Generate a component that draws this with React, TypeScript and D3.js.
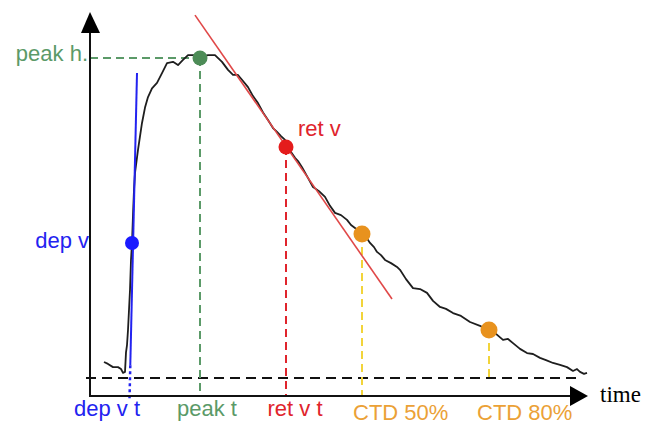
import React from "react";
import * as d3 from "d3";

// Recorded signal (time units, % of peak height)
const curveT = [14, 18, 23, 28, 31, 33, 35, 36, 37, 38, 40, 41, 42, 43, 44, 45, 48, 52, 55, 58, 62, 67, 72, 77, 83, 88, 93, 98, 105, 110, 118, 125, 132, 138, 143, 148, 153, 158, 163, 168, 173, 178, 183, 187, 191, 195, 197, 201, 205, 208, 212, 217, 223, 229, 235, 240, 245, 251, 257, 261, 265, 272, 276, 280, 284, 287, 291, 295, 301, 307, 310, 316, 323, 330, 337, 343, 350, 356, 363, 371, 380, 390, 399, 406, 413, 418, 423, 430, 437, 443, 450, 456, 463, 470, 477, 483, 487, 490, 494, 497];
const curveV = [5.0, 4.4, 3.4, 3.4, 2.8, 1.6, 1.9, 8, 10.3, 15, 27.5, 36.9, 42.2, 50.9, 58.8, 64.1, 71.3, 79.7, 84.5, 87.8, 90.5, 92.2, 95.3, 98.4, 98.8, 97.8, 99.4, 100.9, 100.9, 100.3, 100.9, 100.9, 98.8, 96.3, 94.7, 94.7, 92.8, 90.9, 88.1, 85.9, 83.0, 80.6, 78.1, 76.9, 75.6, 74.4, 72.2, 70.6, 68.8, 67.8, 65.9, 63.1, 59.7, 58.4, 56.6, 53.8, 51.6, 50.9, 49.4, 47.8, 46.9, 45.3, 44.1, 42.2, 40.9, 39.4, 38.4, 36.9, 35.9, 34.7, 33.8, 30.9, 28.1, 27.8, 26.6, 24.1, 22.2, 21.6, 20.3, 19.4, 17.5, 16.3, 14.7, 13.8, 11.9, 12.2, 10.9, 9.1, 7.8, 7.5, 6.3, 5.6, 4.7, 4.1, 3.4, 2.2, 2.8, 1.9, 1.3, 1.6];

// Characteristic points
const pointNames = ["dep v", "peak", "ret v", "CTD 50%", "CTD 80%"];
const pointT = [42, 110, 196, 272, 399];
const pointV = [42.2, 100, 72.2, 45, 15];

// Tangent lines [t0, v0, t1, v1]
const depTangent = [47, 95.3, 40, 0];
const retTangent = [105, 113.4, 302, 24.7];

// Axis extents
const axisT = [0, 498];
const axisV = [-5.6, 114.4];
const baselineT = [-4, 490];

const x = d3.scaleLinear().domain([0, 500]).range([90, 590]);
const y = d3.scaleLinear().domain([0, 100]).range([378, 58]);

const GREEN = "#5b9a68";
const BLUE = "#2323f0";
const RED = "#e0242c";
const ORANGE = "#e8921e";
const YELLOW = "#f2d43a";
const ORANGE_TXT = "#eba136";
const FONT = "'Liberation Sans', Arial, sans-serif";

export default function App() {
  const line = d3
    .line<number>()
    .x((_, i) => x(curveT[i]))
    .y((_, i) => y(curveV[i]))
    .curve(d3.curveLinear);
  const path = line(curveT) || "";

  const x0 = x(axisT[0]);
  const y0 = y(axisV[0]);
  const xEnd = x(axisT[1]);
  const yTop = y(axisV[1]);

  const [dep, peak, ret, c50, c80] = pointT.map((t, i) => ({ cx: x(t), cy: y(pointV[i]) }));

  const depSolidEndV = 4;
  const depSlope = (depTangent[2] - depTangent[0]) / (depTangent[3] - depTangent[1]);
  const tAt = (v: number) => depTangent[0] + depSlope * (v - depTangent[1]);

  return (
    <svg
      width={654}
      height={434}
      style={{ position: "absolute", left: 0, top: 0, background: "#fff" }}
      fontFamily={FONT}
    >
      {/* baseline dashed */}
      <line x1={x(baselineT[0])} x2={x(baselineT[1])} y1={y(0)} y2={y(0)} stroke="#111" strokeWidth={2} strokeDasharray="10,6" />

      {/* guide lines */}
      <line x1={x0} x2={peak.cx} y1={peak.cy} y2={peak.cy} stroke={GREEN} strokeWidth={2} strokeDasharray="8,5" />
      <line x1={peak.cx} x2={peak.cx} y1={peak.cy} y2={y0} stroke={GREEN} strokeWidth={2} strokeDasharray="8,5" />
      <line x1={ret.cx} x2={ret.cx} y1={ret.cy} y2={y0} stroke={RED} strokeWidth={2} strokeDasharray="8,5" />
      <line x1={c50.cx} x2={c50.cx} y1={c50.cy} y2={y0} stroke={YELLOW} strokeWidth={2} strokeDasharray="8,5" />
      <line x1={c80.cx} x2={c80.cx} y1={c80.cy} y2={y(0)} stroke={YELLOW} strokeWidth={2} strokeDasharray="8,5" />

      {/* signal */}
      <path d={path} fill="none" stroke="#1e1e1e" strokeWidth={1.8} strokeLinejoin="round" />

      {/* tangents */}
      <line x1={x(depTangent[0])} y1={y(depTangent[1])} x2={x(tAt(depSolidEndV))} y2={y(depSolidEndV)} stroke={BLUE} strokeWidth={2} />
      <line x1={x(tAt(depSolidEndV))} y1={y(depSolidEndV)} x2={x(tAt(-7))} y2={y(-7)} stroke={BLUE} strokeWidth={2.5} strokeDasharray="3,3" />
      <line x1={x(retTangent[0])} y1={y(retTangent[1])} x2={x(retTangent[2])} y2={y(retTangent[3])} stroke="#e04848" strokeWidth={1.6} />

      {/* axes */}
      <line x1={x0} x2={x0} y1={y0} y2={yTop + 18} stroke="#111" strokeWidth={2} />
      <path d={`M${x0},${yTop} L${x0 - 9},${yTop + 21} L${x0 + 10},${yTop + 21} Z`} fill="#000" />
      <line x1={x0 - 1} x2={xEnd - 16} y1={y0} y2={y0} stroke="#111" strokeWidth={2} />
      <path d={`M${xEnd},${y0} L${xEnd - 18},${y0 - 10} L${xEnd - 18},${y0 + 10} Z`} fill="#000" />

      {/* points */}
      <circle cx={dep.cx} cy={dep.cy} r={7} fill="#1a1aff" />
      <circle cx={peak.cx} cy={peak.cy} r={7.5} fill="#4d8c57" />
      <circle cx={ret.cx} cy={ret.cy} r={7.5} fill="#e41c1c" />
      <circle cx={c50.cx} cy={c50.cy} r={8.5} fill={ORANGE} />
      <circle cx={c80.cx} cy={c80.cy} r={8.5} fill={ORANGE} />

      {/* labels */}
      <text x={x0 - 2} y={peak.cy + 3} textAnchor="end" fontSize={22} fill={GREEN}>peak h.</text>
      <text x={x0 - 1} y={dep.cy + 5} textAnchor="end" fontSize={22} fill={BLUE}>{pointNames[0]}</text>
      <text x={ret.cx + 12} y={ret.cy - 11} fontSize={22} fill={RED}>{pointNames[2]}</text>

      <text x={140} y={416} textAnchor="end" fontSize={22} fill={BLUE}>dep v t</text>
      <text x={peak.cx + 7} y={416} textAnchor="middle" fontSize={22} fill={GREEN}>peak t</text>
      <text x={ret.cx + 9} y={416} textAnchor="middle" fontSize={22} fill={RED}>ret v t</text>
      <text x={c50.cx - 9} y={420} fontSize={22} fill={ORANGE_TXT}>{pointNames[3]}</text>
      <text x={c80.cx - 12} y={420} fontSize={22} fill={ORANGE_TXT}>{pointNames[4]}</text>

      <text x={600} y={402} fontSize={23} fontFamily="'Liberation Serif', 'Times New Roman', serif" fill="#000">time</text>
    </svg>
  );
}
